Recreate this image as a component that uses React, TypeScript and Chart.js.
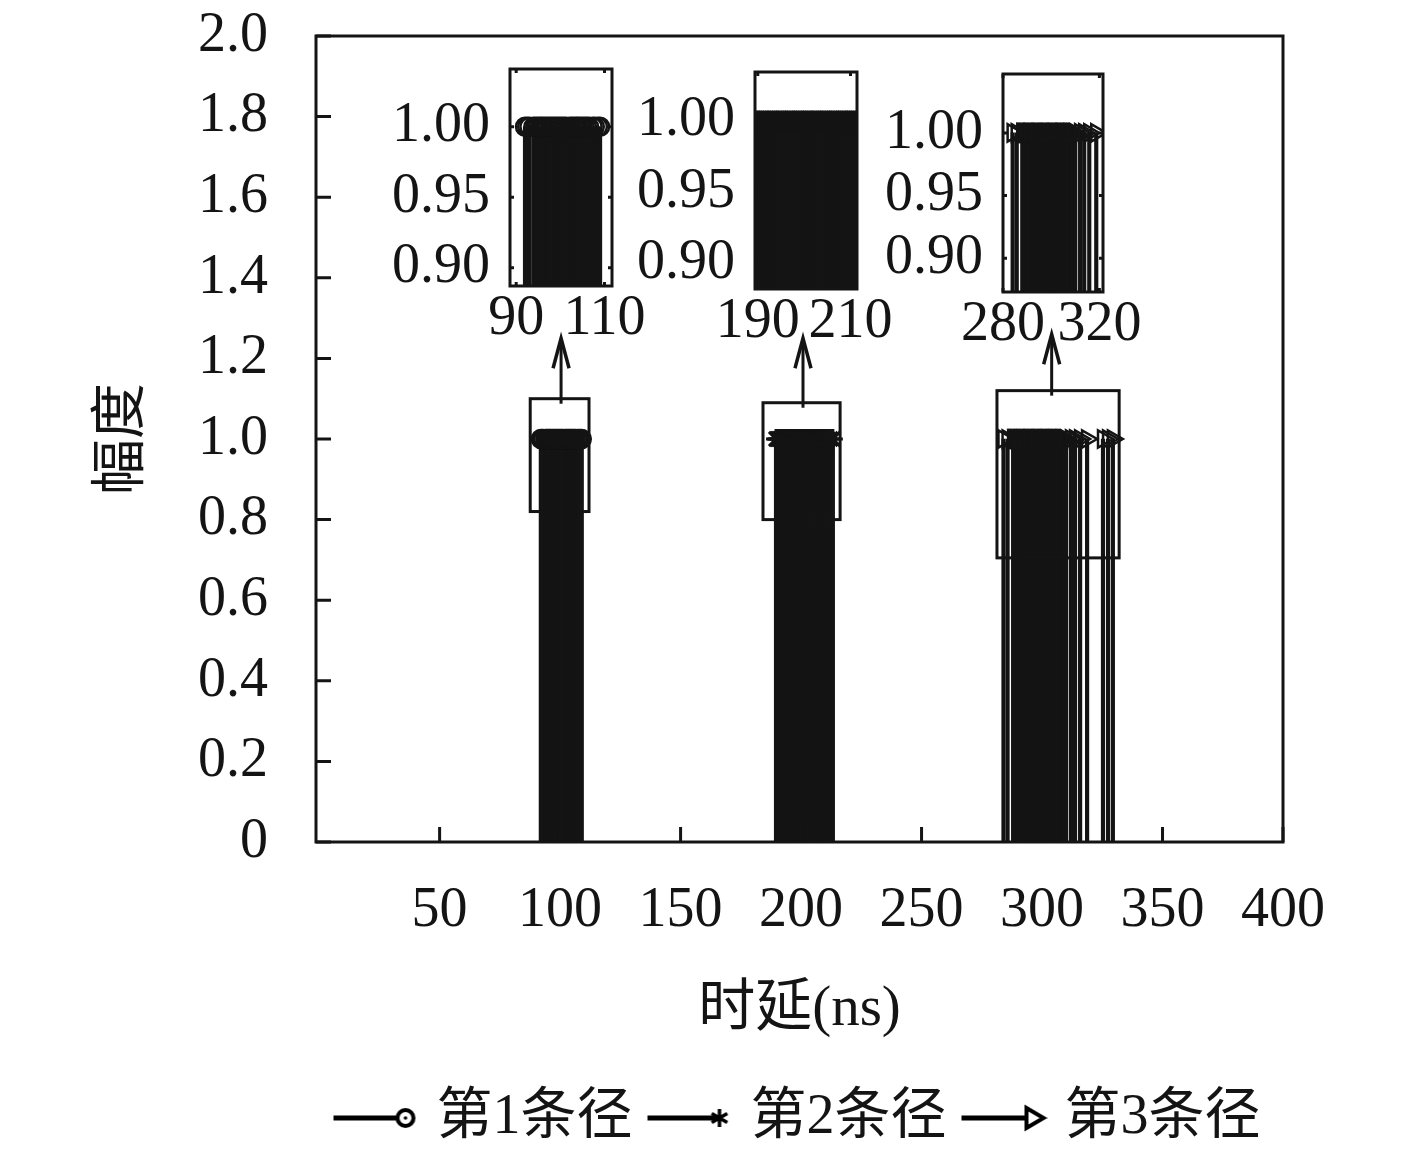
import React, { useEffect, useRef } from 'react';
import { Chart, registerables } from 'chart.js';

Chart.register(...registerables);

// ---------------- data ----------------
const seriesNames = ['第1条径', '第2条径', '第3条径'];

const path1Delay = [92.0, 92.5, 93.0, 93.9, 94.4, 94.9, 95.4, 95.8, 96.3, 96.8, 97.3, 97.8, 98.3, 98.8, 99.3, 99.8, 100.3, 100.8, 101.3, 102.1, 102.6, 103.1, 103.6, 104.0, 104.5, 105.0, 105.5, 106.0, 106.5, 107.3, 107.8, 108.5, 109.0];
const path1Amp = [1.0, 1.0, 1.0, 1.0, 1.0, 1.0, 1.0, 1.0, 1.0, 1.0, 1.0, 1.0, 1.0, 1.0, 1.0, 1.0, 1.0, 1.0, 1.0, 1.0, 1.0, 1.0, 1.0, 1.0, 1.0, 1.0, 1.0, 1.0, 1.0, 1.0, 1.0, 1.0, 1.0];

const path2Delay = [189.6, 190.1, 190.5, 191.0, 191.5, 192.0, 192.4, 192.9, 193.4, 193.9, 194.3, 194.8, 195.3, 195.8, 196.2, 196.7, 197.2, 197.7, 198.1, 198.6, 199.1, 199.6, 200.0, 200.5, 201.0, 201.5, 201.9, 202.4, 202.9, 203.4, 203.8, 204.3, 204.8, 205.3, 205.7, 206.2, 206.7, 207.2, 207.6, 208.1, 208.6, 209.1, 209.5, 210.0, 210.5, 211.0, 212.2, 213.2];
const path2Amp = [1.0, 1.0, 1.0, 1.0, 1.0, 1.0, 1.0, 1.0, 1.0, 1.0, 1.0, 1.0, 1.0, 1.0, 1.0, 1.0, 1.0, 1.0, 1.0, 1.0, 1.0, 1.0, 1.0, 1.0, 1.0, 1.0, 1.0, 1.0, 1.0, 1.0, 1.0, 1.0, 1.0, 1.0, 1.0, 1.0, 1.0, 1.0, 1.0, 1.0, 1.0, 1.0, 1.0, 1.0, 1.0, 1.0, 1.0, 1.0];

const path3Delay = [284.0, 285.7, 288.0, 288.5, 289.0, 289.4, 289.9, 290.4, 290.9, 291.3, 291.8, 292.3, 292.8, 293.2, 293.7, 294.2, 294.7, 295.1, 295.6, 296.1, 296.6, 297.0, 297.5, 298.0, 298.5, 298.9, 299.4, 299.9, 300.4, 300.8, 301.3, 301.8, 302.3, 302.7, 303.2, 303.7, 304.2, 304.6, 305.1, 305.6, 306.1, 306.5, 307.0, 307.5, 308.0, 308.5, 309.0, 309.5, 310.0, 312.0, 313.7, 315.8, 318.7, 325.3, 327.4, 329.4];
const path3Amp = [1.0, 1.0, 1.0, 1.0, 1.0, 1.0, 1.0, 1.0, 1.0, 1.0, 1.0, 1.0, 1.0, 1.0, 1.0, 1.0, 1.0, 1.0, 1.0, 1.0, 1.0, 1.0, 1.0, 1.0, 1.0, 1.0, 1.0, 1.0, 1.0, 1.0, 1.0, 1.0, 1.0, 1.0, 1.0, 1.0, 1.0, 1.0, 1.0, 1.0, 1.0, 1.0, 1.0, 1.0, 1.0, 1.0, 1.0, 1.0, 1.0, 1.0, 1.0, 1.0, 1.0, 1.0, 1.0, 1.0];

const mainXTicks = [50, 100, 150, 200, 250, 300, 350, 400];
const mainYTicks = [0, 0.2, 0.4, 0.6, 0.8, 1.0, 1.2, 1.4, 1.6, 1.8, 2.0];
const mainXRange = [-1.3, 400];
const mainYRange = [0, 2];

const insetYTicks = [0.9, 0.95, 1.0];
const inset1XTicks = [90, 110];
const inset2XTicks = [190, 210];
const inset3XTicks = [280, 320];
const insetXMin = [88.6, 189.4, 280.0];
const insetXMax = [111.7, 211.4, 321.5];
const insetYMin = [0.887, 0.882, 0.873];
const insetYMax = [1.041, 1.034, 1.047];

// zoom boxes on the main plot (data units)
const zoomBoxLeft = [87.6, 184.2, 281.3];
const zoomBoxRight = [112.0, 216.2, 332.0];
const zoomBoxBottom = [0.82, 0.8, 0.705];
const zoomBoxTop = [1.1, 1.09, 1.12];
const arrowX = [100.4, 200.8, 304.0];
const arrowTip = [1.25, 1.25, 1.26];

// ---------------- styles ----------------
const INK = '#141414';
const FONT = '"Liberation Serif", "Noto Sans CJK SC", serif';
const W = 1417;
const H = 1157;
const TICK_SIZE = 56;
const TITLE_SIZE = 57;
const LEGEND_SIZE = 56;

const insetBoxes = [
  { canvasLeft: 380, canvasTop: 25, canvasW: 290, canvasH: 330, left: 510, right: 612, top: 69, bottom: 286 },
  { canvasLeft: 625, canvasTop: 25, canvasW: 290, canvasH: 330, left: 755, right: 857, top: 72, bottom: 289 },
  { canvasLeft: 873, canvasTop: 25, canvasW: 290, canvasH: 330, left: 1003, right: 1103, top: 74, bottom: 292 },
];

const markerStyles = [
  { style: 'circle', rot: 0, r: 9, bw: 2.5 },
  { style: 'star', rot: 0, r: 10, bw: 3 },
  { style: 'triangle', rot: 90, r: 10, bw: 2.5 },
];

function makeDatasets(clip?: number) {
  const delays = [path1Delay, path2Delay, path3Delay];
  const amps = [path1Amp, path2Amp, path3Amp];
  const stems = delays.map((d, i) => ({
    type: 'bar',
    label: seriesNames[i],
    data: d.map((x, k) => ({ x, y: amps[i][k] })),
    backgroundColor: INK,
    borderWidth: 0,
    barThickness: 3.5,
    grouped: false,
    order: 2,
    ...(clip !== undefined ? { clip } : {}),
  }));
  const marks = delays.map((d, i) => ({
    type: 'scatter',
    label: seriesNames[i],
    data: d.map((x, k) => ({ x, y: amps[i][k] })),
    showLine: false,
    pointStyle: markerStyles[i].style,
    pointRotation: markerStyles[i].rot,
    pointRadius: markerStyles[i].r,
    pointBorderWidth: markerStyles[i].bw,
    pointBorderColor: INK,
    pointBackgroundColor: 'rgba(0,0,0,0)',
    order: 1,
    ...(clip !== undefined ? { clip } : {}),
  }));
  return [...stems, ...marks];
}

// legend glyph: a short line followed by the series marker
function makeLegendIcon(kind: number): HTMLCanvasElement {
  const c = document.createElement('canvas');
  c.width = 92;
  c.height = 32;
  const g = c.getContext('2d')!;
  const cy = 16;
  const mx = 78;
  g.strokeStyle = '#000';
  g.lineWidth = 5;
  g.beginPath();
  g.moveTo(6, cy);
  g.lineTo(mx - 6, cy);
  g.stroke();
  if (kind === 0) {
    g.lineWidth = 4;
    g.beginPath();
    g.arc(mx, cy, 8, 0, Math.PI * 2);
    g.fillStyle = '#fff';
    g.fill();
    g.stroke();
    g.beginPath();
    g.arc(mx, cy, 1.8, 0, Math.PI * 2);
    g.fillStyle = '#000';
    g.fill();
  } else if (kind === 1) {
    g.beginPath();
    g.moveTo(mx - 7, cy);
    g.lineTo(mx, cy);
    g.stroke();
    g.lineWidth = 3.5;
    g.beginPath();
    for (const a of [90, 30, 150]) {
      const r = (a * Math.PI) / 180;
      g.moveTo(mx - Math.cos(r) * 9, cy - Math.sin(r) * 9);
      g.lineTo(mx + Math.cos(r) * 9, cy + Math.sin(r) * 9);
    }
    g.stroke();
  } else {
    g.lineWidth = 4;
    g.lineJoin = 'miter';
    g.beginPath();
    g.moveTo(mx - 7, cy - 10);
    g.lineTo(mx + 10, cy);
    g.lineTo(mx - 7, cy + 10);
    g.closePath();
    g.fillStyle = '#fff';
    g.fill();
    g.stroke();
  }
  return c;
}

const mainDecor = {
  id: 'mainDecor',
  afterDraw(chart: any) {
    const { ctx, chartArea: a, scales } = chart;
    const x = scales.x;
    const y = scales.y;
    ctx.save();
    ctx.strokeStyle = INK;
    ctx.lineWidth = 3;
    ctx.lineCap = 'butt';
    ctx.beginPath();
    for (const v of mainXTicks) {
      const px = x.getPixelForValue(v);
      ctx.moveTo(px, a.bottom);
      ctx.lineTo(px, a.bottom - 15);
    }
    for (const v of mainYTicks) {
      const py = y.getPixelForValue(v);
      ctx.moveTo(a.left, py);
      ctx.lineTo(a.left + 15, py);
    }
    ctx.stroke();
    for (let i = 0; i < zoomBoxLeft.length; i++) {
      const l = x.getPixelForValue(zoomBoxLeft[i]);
      const r = x.getPixelForValue(zoomBoxRight[i]);
      const t = y.getPixelForValue(zoomBoxTop[i]);
      const b = y.getPixelForValue(zoomBoxBottom[i]);
      ctx.strokeRect(l, t, r - l, b - t);
      const ax = x.getPixelForValue(arrowX[i]);
      const tipY = y.getPixelForValue(arrowTip[i]);
      ctx.beginPath();
      ctx.moveTo(ax, t + 5);
      ctx.lineTo(ax, tipY + 2);
      ctx.stroke();
      ctx.lineWidth = 3.5;
      ctx.beginPath();
      ctx.moveTo(ax - 8, tipY + 30);
      ctx.lineTo(ax, tipY);
      ctx.lineTo(ax + 8, tipY + 30);
      ctx.stroke();
      ctx.lineWidth = 3;
    }
    ctx.strokeRect(a.left, a.top, a.right - a.left, a.bottom - a.top);
    ctx.restore();
  },
};

const insetDecor = {
  id: 'insetDecor',
  afterDraw(chart: any) {
    const { ctx, chartArea: a, scales } = chart;
    const x = scales.x;
    const y = scales.y;
    ctx.save();
    ctx.strokeStyle = INK;
    ctx.lineWidth = 3;
    ctx.beginPath();
    for (const t of x.ticks) {
      const px = x.getPixelForValue(t.value);
      ctx.moveTo(px, a.bottom);
      ctx.lineTo(px, a.bottom - 4);
      ctx.moveTo(px, a.top);
      ctx.lineTo(px, a.top + 4);
    }
    for (const t of y.ticks) {
      const py = y.getPixelForValue(t.value);
      ctx.moveTo(a.left, py);
      ctx.lineTo(a.left + 4, py);
      ctx.moveTo(a.right, py);
      ctx.lineTo(a.right - 4, py);
    }
    ctx.stroke();
    ctx.strokeRect(a.left, a.top, a.right - a.left, a.bottom - a.top);
    ctx.restore();
  },
};

function mainConfig(icons: HTMLCanvasElement[]): any {
  return {
    type: 'bar',
    data: { datasets: makeDatasets() },
    options: {
      responsive: false,
      animation: false,
      events: [],
      layout: { padding: { left: 0, right: W - 1283, top: 36, bottom: 1 } },
      plugins: {
        tooltip: { enabled: false },
        legend: {
          display: true,
          position: 'bottom',
          fullSize: false,
          labels: {
            usePointStyle: true,
            pointStyleWidth: 70,
            padding: 20,
            color: INK,
            font: { family: FONT, size: LEGEND_SIZE },
            generateLabels: () =>
              seriesNames.map((text, i) => ({
                text,
                pointStyle: icons[i],
                rotation: 0,
                fillStyle: 'rgba(0,0,0,0)',
                strokeStyle: 'rgba(0,0,0,0)',
                lineWidth: 0,
                hidden: false,
                datasetIndex: i,
                fontColor: INK,
              })),
          },
        },
      },
      scales: {
        x: {
          type: 'linear',
          min: mainXRange[0],
          max: mainXRange[1],
          offset: false,
          grid: { display: false, drawTicks: true, tickLength: 36 },
          border: { display: false },
          afterBuildTicks: (s: any) => {
            s.ticks = mainXTicks.map((v) => ({ value: v }));
          },
          afterFit: (s: any) => {
            s.height = 228;
          },
          ticks: {
            autoSkip: false,
            maxRotation: 0,
            minRotation: 0,
            padding: 0,
            color: INK,
            font: { family: FONT, size: TICK_SIZE },
            callback: (v: number) => String(v),
          },
          title: {
            display: true,
            text: '时延(ns)',
            color: INK,
            font: { family: FONT, size: TITLE_SIZE },
            padding: { top: 0, bottom: 26 },
          },
        },
        y: {
          type: 'linear',
          min: mainYRange[0],
          max: mainYRange[1],
          grid: { display: false, drawTicks: true, tickLength: 48 },
          border: { display: false },
          afterBuildTicks: (s: any) => {
            s.ticks = mainYTicks.map((v) => ({ value: v }));
          },
          afterFit: (s: any) => {
            s.width = 316;
          },
          ticks: {
            padding: 0,
            color: INK,
            font: { family: FONT, size: TICK_SIZE },
            callback: (v: number) => (v === 0 ? '0' : Number(v).toFixed(1)),
          },
          title: {
            display: true,
            text: '幅度',
            color: INK,
            font: { family: FONT, size: 56 },
            padding: { top: 90, bottom: 0 },
          },
        },
      },
    },
    plugins: [mainDecor],
  };
}

function insetConfig(i: number): any {
  const box = insetBoxes[i];
  const xt = [inset1XTicks, inset2XTicks, inset3XTicks][i];
  return {
    type: 'bar',
    data: { datasets: makeDatasets(0) },
    options: {
      responsive: false,
      animation: false,
      events: [],
      layout: {
        padding: {
          left: 0,
          top: box.top - box.canvasTop,
          right: box.canvasLeft + box.canvasW - box.right,
          bottom: 0,
        },
      },
      plugins: { tooltip: { enabled: false }, legend: { display: false } },
      scales: {
        x: {
          type: 'linear',
          min: insetXMin[i],
          max: insetXMax[i],
          offset: false,
          grid: { display: false, drawTicks: false },
          border: { display: false },
          afterBuildTicks: (s: any) => {
            s.ticks = xt.map((v) => ({ value: v }));
          },
          afterFit: (s: any) => {
            s.height = box.canvasTop + box.canvasH - box.bottom;
          },
          ticks: {
            autoSkip: false,
            maxRotation: 0,
            minRotation: 0,
            padding: 0,
            color: INK,
            font: { family: FONT, size: TICK_SIZE },
            callback: (v: number) => String(v),
          },
        },
        y: {
          type: 'linear',
          min: insetYMin[i],
          max: insetYMax[i],
          grid: { display: false, drawTicks: true, tickLength: 20 },
          border: { display: false },
          afterBuildTicks: (s: any) => {
            s.ticks = insetYTicks.map((v) => ({ value: v }));
          },
          afterFit: (s: any) => {
            s.width = box.left - box.canvasLeft;
          },
          ticks: {
            padding: 0,
            color: INK,
            font: { family: FONT, size: TICK_SIZE },
            callback: (v: number) => Number(v).toFixed(2),
          },
        },
      },
    },
    plugins: [insetDecor],
  };
}

export default function App() {
  const mainRef = useRef<HTMLCanvasElement>(null);
  const in1 = useRef<HTMLCanvasElement>(null);
  const in2 = useRef<HTMLCanvasElement>(null);
  const in3 = useRef<HTMLCanvasElement>(null);

  useEffect(() => {
    const icons = [0, 1, 2].map((k) => makeLegendIcon(k));
    const charts: Chart[] = [];
    charts.push(new Chart(mainRef.current!, mainConfig(icons)));
    [in1, in2, in3].forEach((r, i) => {
      charts.push(new Chart(r.current!, insetConfig(i)));
    });
    return () => charts.forEach((c) => c.destroy());
  }, []);

  return (
    <div style={{ position: 'absolute', left: 0, top: 0, width: W, height: H, background: '#fff' }}>
      <canvas ref={mainRef} width={W} height={H} style={{ position: 'absolute', left: 0, top: 0, width: W, height: H }} />
      {[in1, in2, in3].map((r, i) => (
        <canvas
          key={i}
          ref={r}
          width={insetBoxes[i].canvasW}
          height={insetBoxes[i].canvasH}
          style={{
            position: 'absolute',
            left: insetBoxes[i].canvasLeft,
            top: insetBoxes[i].canvasTop,
            width: insetBoxes[i].canvasW,
            height: insetBoxes[i].canvasH,
          }}
        />
      ))}
    </div>
  );
}
